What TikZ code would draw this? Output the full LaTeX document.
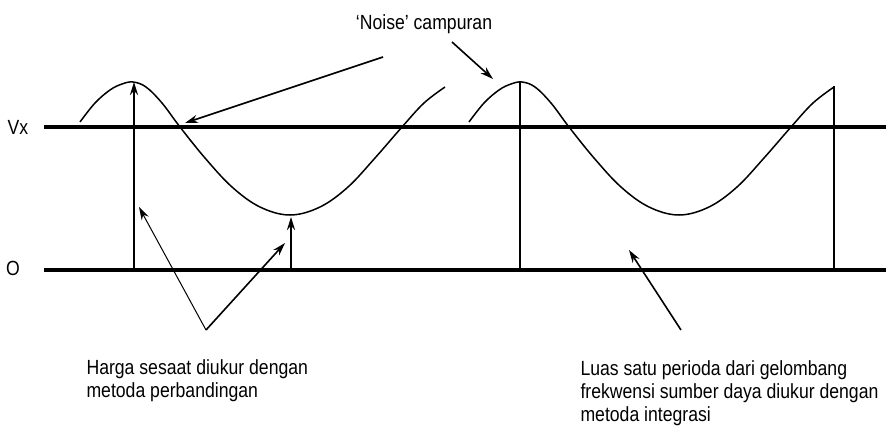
\documentclass[tikz,border=0pt]{standalone}
\usepackage{fontspec}
\setmainfont{Liberation Sans}[FakeStretch=0.86]
\usetikzlibrary{arrows.meta}

\begin{document}
\begin{tikzpicture}[x=1pt, y=-1pt, every node/.style={font=\fontsize{20.5}{23}\selectfont},
  axis/.style={line width=3.2pt},
  wave/.style={line width=1.5pt},
  mark line/.style={line width=2.2pt},
  pointer/.style={line width=1.6pt, -{Stealth[length=13pt,width=8pt]}}]
  \useasboundingbox (0,0) rectangle (886,428);
  % reference levels
  \node (vx) at (18,127) {Vx};
  \node (zero) at (13,268) {O};
  \coordinate (vxl) at (44,127); \coordinate (vxr) at (886,127);
  \coordinate (ol) at (44,270); \coordinate (or) at (886,270);
  \draw[axis] (vxl) -- (vxr);
  \draw[axis] (ol) -- (or);
  % two periods of the wave
  \foreach \s in {0,389} {
    \draw[wave, xshift=\s] plot[smooth, tension=0.6] coordinates {(80,122) (95,103) (110,90) (122,84) (133,82) (146,87) (162,103) (180,127) (205,158) (232,187) (260,207) (290,215) (320,207) (348,187) (375,158) (402,127) (424,103) (445,87)};
  }
  \coordinate (pk1) at (134,82); \coordinate (f1) at (134,270);
  \coordinate (tr1) at (291,217); \coordinate (f2) at (291,270);
  \coordinate (pk2) at (520,82); \coordinate (f3) at (520,270);
  \coordinate (end2) at (834,86); \coordinate (f4) at (834,270);
  \draw[mark line, -{Stealth[length=13pt,width=8pt]}] (f1) -- (pk1);
  \draw[mark line, -{Stealth[length=13pt,width=8pt]}] (f2) -- (tr1);
  \draw[mark line] (f3) -- (pk2);
  \draw[mark line] (f4) -- (end2);
  % labels and pointers
  \node (noise) at (424,24) {`Noise' campuran};
  \coordinate (n1) at (383,57); \coordinate (n1t) at (185,123);
  \coordinate (n2) at (452,42); \coordinate (n2t) at (493,79);
  \draw[pointer] (n1) -- (n1t);
  \draw[pointer] (n2) -- (n2t);
  \node[anchor=west, align=left] (harga) at (83,381) {Harga sesaat diukur dengan\\metoda perbandingan};
  \coordinate (ha) at (206,330);
  \coordinate (h1t) at (139,207); \coordinate (h2t) at (285,243);
  \draw[pointer, line width=1pt] (ha) -- (h1t);
  \draw[pointer] (ha) -- (h2t);
  \node[anchor=west, align=left] (luas) at (577,393) {Luas satu perioda dari gelombang\\frekwensi sumber daya diukur dengan\\metoda integrasi};
  \coordinate (la) at (681,330); \coordinate (lt) at (629,250);
  \draw[pointer] (la) -- (lt);
\end{tikzpicture}
\end{document}
